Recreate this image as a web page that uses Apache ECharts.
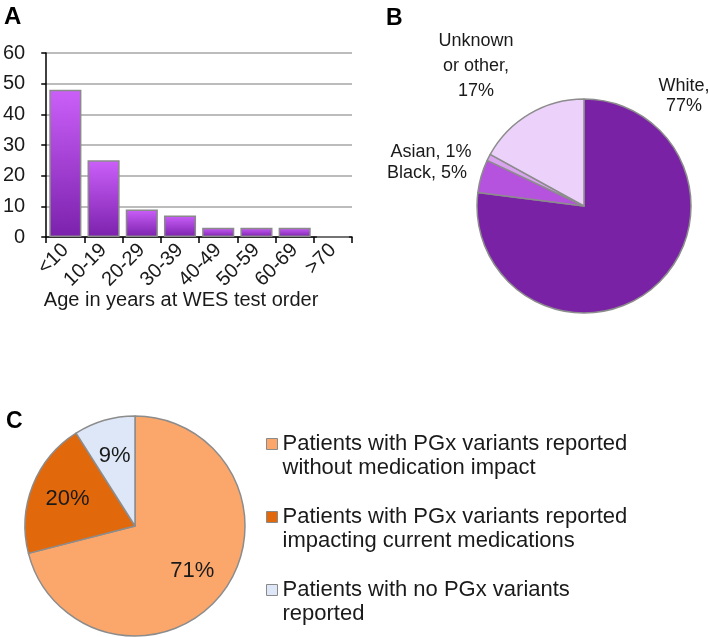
<!DOCTYPE html>
<html>
<head>
<meta charset="utf-8">
<script src="https://cdn.jsdelivr.net/npm/echarts@6/dist/echarts.min.js"></script>
<style>
html,body{margin:0;padding:0;background:#fff;}
#c{width:709px;height:637px;}
</style>
</head>
<body>
<div id="c"></div>
<script>
// ---- Data ----
const ageCategories = ['<10', '10-19', '20-29', '30-39', '40-49', '50-59', '60-69', '>70'];
const ageCounts = [48, 25, 9, 7, 3, 3, 3, 0];
const yTicks = {min: 0, max: 60, interval: 10};

const raceNames = ['White', 'Black', 'Asian', 'Unknown\nor other'];
const raceValues = [77, 5, 1, 17];
const raceSep = ['\n', ' ', ' ', '\n'];

const pgxNames = [
  'Patients with PGx variants reported\nwithout medication impact',
  'Patients with PGx variants reported\nimpacting current medications',
  'Patients with no PGx variants\nreported'
];
const pgxValues = [71, 20, 9];

// ---- Styles ----
const FONT = '"Liberation Sans", Arial, Helvetica, sans-serif';
const TXT = '#1a1a1a';
const raceColors = ['#7a22a6', '#b552de', '#d9a3ef', '#ecd2fb'];
const pgxColors = ['#fba76c', '#e2680c', '#dde7f7'];
const raceLabelPos = [
  {x: 684, y: 96},
  {x: 427, y: 173},
  {x: 431, y: 152},
  {x: 476, y: 66}
];
const raceLineHeight = [20, 21, 21, 25];

const pgxCenter = [135, 526], pgxR = 110;
const pgxTotal = pgxValues.reduce((a, b) => a + b, 0);

const chart = echarts.init(document.getElementById('c'), null, {renderer: 'canvas'});

const option = {
  backgroundColor: '#fff',
  animation: false,
  textStyle: {fontFamily: FONT},
  title: [
    {text: 'A', left: 4, top: 5, padding: 0, textStyle: {fontFamily: FONT, fontSize: 24, fontWeight: 'bold', color: '#000'}},
    {text: 'B', left: 386, top: 7, padding: 0, textStyle: {fontFamily: FONT, fontSize: 23, fontWeight: 'bold', color: '#000'}},
    {text: 'C', left: 6, top: 410, padding: 0, textStyle: {fontFamily: FONT, fontSize: 23, fontWeight: 'bold', color: '#000'}}
  ],
  grid: {left: 46, top: 53, width: 306, height: 184, containLabel: false},
  xAxis: {
    type: 'category',
    data: ageCategories,
    axisLine: {show: true, lineStyle: {color: '#000', width: 1.5}},
    axisTick: {show: true, length: 6, alignWithLabel: false, lineStyle: {color: '#000', width: 1.5}},
    axisLabel: {interval: 0, rotate: 45, fontSize: 20, color: TXT, margin: 10, fontFamily: FONT},
    name: 'Age in years at WES test order',
    nameLocation: 'middle',
    nameGap: 53,
    nameMoveOverlap: false,
    nameTextStyle: {fontSize: 20, color: TXT, fontFamily: FONT, padding: [0, 36, 0, 0]}
  },
  yAxis: {
    type: 'value',
    min: yTicks.min, max: yTicks.max, interval: yTicks.interval,
    axisLine: {show: true, lineStyle: {color: '#000', width: 1.5}},
    axisTick: {show: true, length: 5, lineStyle: {color: '#000', width: 1.5}},
    axisLabel: {fontSize: 20, color: TXT, margin: 21, fontFamily: FONT},
    splitLine: {show: true, lineStyle: {color: '#a6a6a6', width: 1.5}}
  },
  legend: {
    show: true,
    data: pgxNames,
    orient: 'vertical',
    left: 266, top: 408,
    padding: 0,
    itemWidth: 11, itemHeight: 11, itemGap: 1,
    icon: 'rect',
    selectedMode: false,
    formatter: name => '\n' + name,
    itemStyle: {borderColor: '#8a8a8a', borderWidth: 1},
    textStyle: {fontSize: 22, lineHeight: 24, color: TXT, fontFamily: FONT}
  },
  series: [
    {
      type: 'bar',
      data: ageCounts,
      barWidth: '84%',
      itemStyle: {
        color: new echarts.graphic.LinearGradient(0, 0, 0, 1, [
          {offset: 0, color: '#cb60f9'},
          {offset: 1, color: '#7b21ad'}
        ]),
        borderColor: '#8a8a8a',
        borderWidth: 1.5
      }
    },
    {
      type: 'pie',
      center: [584, 206],
      radius: 107,
      startAngle: 90,
      clockwise: true,
      data: raceNames.map((n, i) => ({
        name: n, value: raceValues[i],
        itemStyle: {color: raceColors[i]},
        label: {lineHeight: raceLineHeight[i]}
      })),
      itemStyle: {borderColor: '#8c8c8c', borderWidth: 1.5},
      label: {
        show: true,
        position: 'inside',
        formatter: p => p.name + ',' + raceSep[p.dataIndex] + p.value + '%',
        fontSize: 18, color: TXT, fontFamily: FONT, align: 'center'
      },
      labelLine: {show: false},
      labelLayout: p => ({
        x: raceLabelPos[p.dataIndex].x,
        y: raceLabelPos[p.dataIndex].y,
        align: 'center',
        verticalAlign: 'middle',
        hideOverlap: false
      }),
      emphasis: {disabled: true}
    },
    {
      type: 'pie',
      center: pgxCenter,
      radius: pgxR,
      startAngle: 90,
      clockwise: true,
      data: pgxNames.map((n, i) => ({name: n, value: pgxValues[i], itemStyle: {color: pgxColors[i]}})),
      itemStyle: {borderColor: '#8c8c8c', borderWidth: 1.5},
      label: {show: true, position: 'inside', formatter: '{c}%', fontSize: 22, color: TXT, fontFamily: FONT},
      labelLine: {show: false},
      labelLayout: p => {
        let cum = 0;
        for (let j = 0; j < p.dataIndex; j++) cum += pgxValues[j];
        const mid = (cum + pgxValues[p.dataIndex] / 2) / pgxTotal * Math.PI * 2;
        const rr = pgxR * 0.66;
        return {
          x: pgxCenter[0] + rr * Math.sin(mid),
          y: pgxCenter[1] - rr * Math.cos(mid),
          align: 'center', verticalAlign: 'middle'
        };
      },
      emphasis: {disabled: true}
    }
  ]
};
chart.setOption(option);
</script>
</body>
</html>
